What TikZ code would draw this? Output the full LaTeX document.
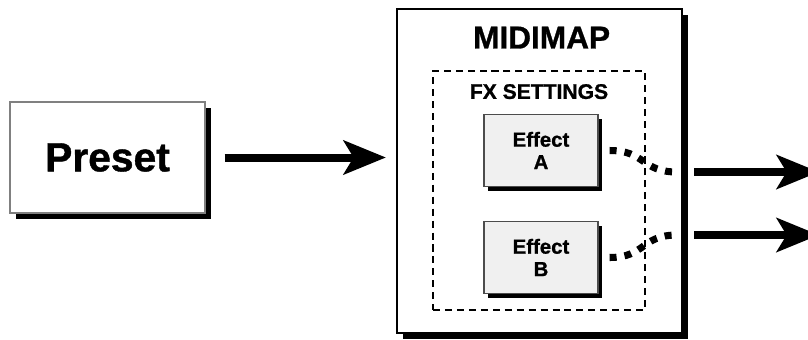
\documentclass[tikz,border=0pt]{standalone}
\usepackage{fontspec}
\setmainfont{Liberation Sans}[BoldFeatures={FakeBold=1}]
\usepackage{tikz}
\usetikzlibrary{arrows.meta, positioning, shadows}

\definecolor{fxgray}{RGB}{240,240,240}

\begin{document}
\begin{tikzpicture}[
  box/.style={draw=gray, line width=0.8pt, fill=white, minimum width=4.875cm, minimum height=2.775cm, inner sep=0pt,
    drop shadow={shadow xshift=4.3pt, shadow yshift=-4.3pt, fill=black, opacity=1}, font=\bfseries\fontsize{29}{31}\selectfont},
  mapbox/.style={draw=black, line width=1.5pt, fill=white, minimum width=7.125cm, minimum height=8.1cm, inner sep=0pt,
    drop shadow={shadow xshift=4.3pt, shadow yshift=-4.3pt, fill=black, opacity=1}},
  fxbox/.style={draw=black, dash pattern=on 5pt off 3.5pt, line width=0.8pt, minimum width=5.3cm, minimum height=5.975cm, inner sep=0pt},
  effect/.style={draw=black!70, line width=0.8pt, fill=fxgray, minimum width=2.85cm, minimum height=1.8cm, inner sep=0pt, align=center,
    drop shadow={shadow xshift=3pt, shadow yshift=-3pt, fill=black, opacity=1}, font=\bfseries\fontsize{14.5}{16}\selectfont},
  ttl/.style={inner sep=0pt, font=\bfseries\fontsize{22.5}{24}\selectfont},
  subttl/.style={inner sep=0pt, font=\bfseries\fontsize{15}{17}\selectfont},
  flow/.style={line width=5.7pt, -{Stealth[length=30pt, width=24pt, inset=7pt]}},
  fxlink/.style={line width=5pt, dash pattern=on 5pt off 5.7pt}
]
\clip (0,0) rectangle (20.2,-8.475);

\node[box] (preset) at (2.6875,-3.9375) {Preset};

\node[mapbox] (midimap) at (13.4875,-4.275) {};
\node[ttl] (maptitle) at (13.54,-0.94) {MIDIMAP};
\node[fxbox] (fx) at (13.475,-4.7625) {};
\node[subttl] (fxtitle) at (13.475,-2.29) {FX SETTINGS};

\node[effect] (effA) at (13.525,-3.7625) {Effect\\A};
\node[effect] (effB) at (13.525,-6.4375) {Effect\\B};

\coordinate (outA) at (20.475,-4.3);
\coordinate (outB) at (20.475,-5.875);

% preset into the map
\draw[flow, shorten <=0.475cm, shorten >=0.25cm] (preset.east) -- (preset.east -| midimap.west);

% effects out
\draw[fxlink] ([xshift=0.275cm]effA.east) to[out=0, in=180, looseness=1.3] ([xshift=-0.15cm]midimap.east |- outA);
\draw[fxlink] ([xshift=0.275cm]effB.east) to[out=0, in=180, looseness=1.3] ([xshift=-0.15cm]midimap.east |- outB);
\draw[flow, shorten <=0.275cm] (midimap.east |- outA) -- (outA);
\draw[flow, shorten <=0.275cm] (midimap.east |- outB) -- (outB);

\end{tikzpicture}
\end{document}
